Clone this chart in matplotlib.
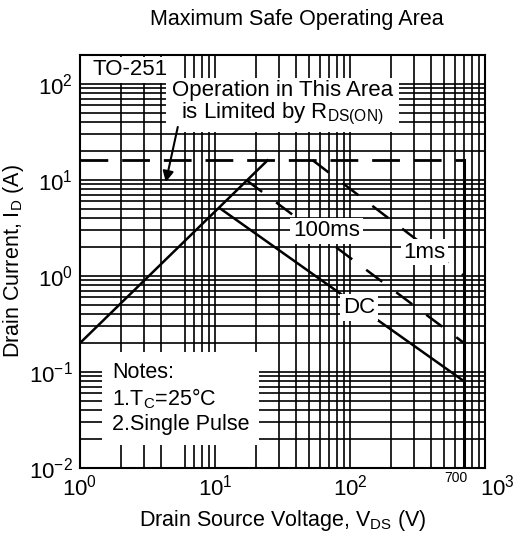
import matplotlib
matplotlib.use("Agg")
import matplotlib.pyplot as plt
from matplotlib.transforms import ScaledTranslation
import numpy as np

plt.rcParams['font.family'] = ['Liberation Sans', 'DejaVu Sans']
plt.rcParams['mathtext.fontset'] = 'custom'
plt.rcParams['mathtext.rm'] = 'Liberation Sans'
plt.rcParams['mathtext.it'] = 'Liberation Sans'

# SOA boundary data (V, A)
rds_v = [1, 24.5]
rds_i = [0.2, 16]
limit_v = [1, 700]
limit_i = [16, 16]
ms1_v = [53, 700]
ms1_i = [16, 1.0]
ms100_v = [17, 700]
ms100_i = [10, 0.2]
dc_v = [10.8, 700]
dc_i = [5.1, 0.08]
vmax_v = [700, 700]
vmax_i = [0.01, 16]

xticks = [1, 10, 100, 1000]
xticklabels = ['$\\mathregular{10^{0}}$', '$\\mathregular{10^{1}}$', '$\\mathregular{10^{2}}$', '$\\mathregular{10^{3}}$']
yticks = [0.01, 0.1, 1, 10, 100]
yticklabels = ['$\\mathregular{10^{-2}}$', '$\\mathregular{10^{-1}}$', '$\\mathregular{10^{0}}$', '$\\mathregular{10^{1}}$', '$\\mathregular{10^{2}}$']

fig = plt.figure(figsize=(5.17, 5.34), dpi=100)
ax = fig.add_axes([80/517, 1-468/534, 405/517, 413/534])
ax.set_xscale('log')
ax.set_yscale('log')
ax.set_xlim(1, 1000)
ax.set_ylim(0.01, 200)

# grid (scanned datasheet style, the 5 V line is missing in the original)
xgrid = [m*10**d for d in range(0, 3) for m in range(2, 10) if not (d == 0 and m == 5)]
xgrid += [10, 100]
ygrid = [m*10**d for d in range(-2, 3) for m in range(1, 10)]
ygrid = [g for g in ygrid if 0.01 < g < 200]
for g in xgrid:
    ax.axvline(g, color='k', lw=1.2, zorder=1)
for g in ygrid:
    ax.axhline(g, color='k', lw=1.2, zorder=1)

ax.plot(rds_v, rds_i, 'k-', lw=1.8, zorder=3)
ax.plot(limit_v, limit_i, 'k-', lw=2.0, dashes=(10, 5), zorder=3)
ax.plot(ms1_v, ms1_i, 'k-', lw=1.8, dashes=(8, 7), zorder=3)
ax.plot(ms100_v, ms100_i, 'k-', lw=1.8, dashes=(8, 7), zorder=3)
ax.plot(dc_v, dc_i, 'k-', lw=1.8, zorder=3)
ax.plot(vmax_v, vmax_i, 'k-', lw=2.2, zorder=3)

box = dict(facecolor='white', edgecolor='none', pad=2)
ax.text(2.34, 140, 'TO-251', ha='center', va='center', fontsize=16, bbox=box, zorder=5)
ax.text(31.6, 63, 'Operation in This Area\nis Limited by $\\mathregular{R_{DS(ON)}}$',
        ha='center', va='center', fontsize=16, linespacing=1.0,
        bbox=dict(facecolor='white', edgecolor='none', pad=4), zorder=5)
ax.annotate('', xy=(4.32, 9.5), xytext=(5.3, 35.6),
            arrowprops=dict(arrowstyle='-|>', color='k', lw=1.5, mutation_scale=16, shrinkA=0, shrinkB=0), zorder=6)
ax.text(67, 2.94, '100ms', ha='center', va='center', fontsize=16, bbox=box, zorder=5)
ax.text(355, 1.77, '1ms', ha='center', va='center', fontsize=16, bbox=box, zorder=5)
ax.text(117, 0.47, 'DC', ha='center', va='center', fontsize=16, bbox=box, zorder=5)
ax.text(1.72, 0.053, 'Notes:\n1.$\\mathregular{T_C}$=25°C\n2.Single Pulse', ha='left', va='center',
        fontsize=15.5, linespacing=1.2, bbox=dict(facecolor='white', edgecolor='none', pad=7), zorder=5)

ax.set_xticks(xticks, xticklabels)
ax.set_yticks(yticks, yticklabels)
ax.minorticks_off()
ax.tick_params(length=0, labelsize=16, pad=5)
lbl = ax.get_xticklabels()[-1]
lbl.set_transform(lbl.get_transform() + ScaledTranslation(9/72, 0, fig.dpi_scale_trans))
ax.text(610, 0.0094, '700', ha='center', va='top', fontsize=10)

ax.set_xlabel('Drain Source Voltage, $\\mathregular{V_{DS}}$ (V)', fontsize=15.5, labelpad=5)
ax.set_ylabel('Drain Current, $\\mathregular{I_D}$ (A)', fontsize=15.5, labelpad=2)
fig.text(297/517, 1-20/534, 'Maximum Safe Operating Area', ha='center', va='center', fontsize=15.5)

for s in ax.spines.values():
    s.set_linewidth(1.5)

fig.savefig('out.png', dpi=100)
